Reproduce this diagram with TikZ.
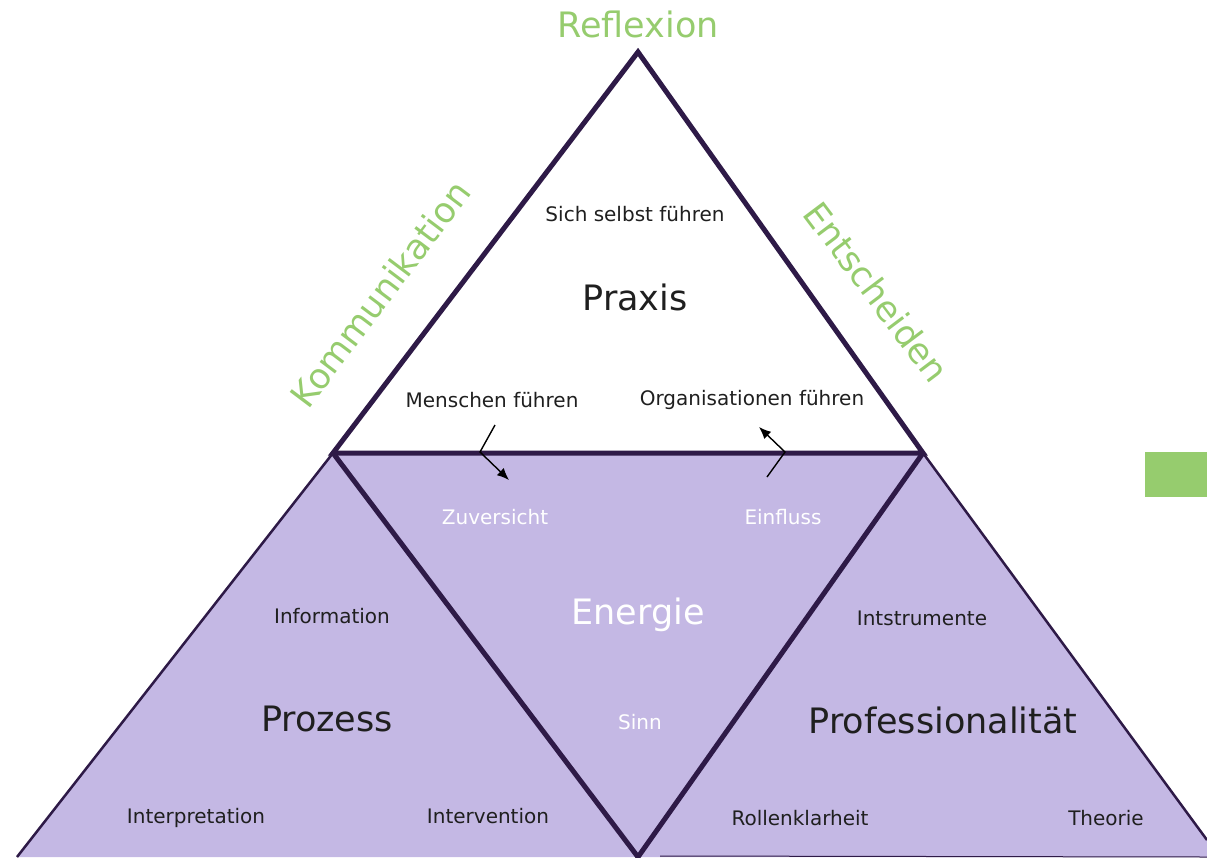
\documentclass[tikz,border=0pt]{standalone}
\usepackage{fontspec}
\setmainfont{DejaVu Sans}
\usetikzlibrary{arrows.meta}
\definecolor{lila}{HTML}{C4B8E4}
\definecolor{dunkel}{HTML}{2E1A47}
\definecolor{gruen}{HTML}{96CC6E}
\tikzset{
  thick edge/.style={draw=dunkel,line width=5pt,line join=miter},
  thin edge/.style={draw=dunkel,line width=2.5pt},
  greenlbl/.style={text=gruen,font=\fontsize{35}{35}\selectfont,inner sep=0pt},
  big/.style={text=black!88,font=\fontsize{35}{35}\selectfont,inner sep=0pt},
  small/.style={text=black!88,font=\fontsize{20}{20}\selectfont,inner sep=0pt},
  whitebig/.style={text=white,font=\fontsize{35}{35}\selectfont,inner sep=0pt},
  whitesmall/.style={text=white,font=\fontsize{20}{20}\selectfont,inner sep=0pt},
  pointer/.style={draw=black,line width=1.4pt,-{Latex[length=12pt,width=10pt]}}
}
\begin{document}
\begin{tikzpicture}[x=1pt,y=-1pt]
\useasboundingbox (0,0) rectangle (1207,857);
\coordinate (A) at (638,52);
\coordinate (L) at (333,453);
\coordinate (R) at (923,453);
\coordinate (B) at (638,857);
\coordinate (BL) at (17,857);
\coordinate (BR) at (1207,840);
\coordinate (BRb) at (1207,857);
% fill
\fill[lila] (L) -- (R) -- (BR) -- (BRb) -- (BL) -- cycle;
% outer thin edges
\draw[thin edge] (L) -- (BL);
\draw[thin edge] (R) -- (BR);
\draw[dunkel,line width=1pt] (660,856) -- (BRb);
% thick triangles
\draw[thick edge] (A) -- (L) -- (R) -- cycle;
\draw[thick edge] (L) -- (B) -- (R);
% green rectangle
\fill[gruen] (1145,452) rectangle (1207,497);
% green labels
\node[greenlbl] (refl) at (638,24) {Reflexion};
\node[greenlbl,rotate=53] (komm) at (380,294) {Kommunikation};
\node[greenlbl,rotate=-53] (ents) at (877,292) {Entscheiden};
% top
\node[small] (ssf) at (635,214) {Sich selbst führen};
\node[big] (praxis) at (635,297) {Praxis};
\node[small] (mf) at (492,400) {Menschen führen};
\node[small] (of) at (752,400) {Organisationen führen};
% middle
\node[whitesmall] (zuv) at (495,517) {Zuversicht};
\node[whitesmall] (einf) at (783,517) {Einfluss};
\node[whitebig] (energie) at (638,615) {Energie};
\node[whitesmall] (sinn) at (640,722) {Sinn};
% left
\node[small] (info) at (332,616) {Information};
\node[big] (prozess) at (327,719) {Prozess};
\node[small] (interp) at (196,818) {Interpretation};
\node[small] (interv) at (488,816) {Intervention};
% right
\node[small] (instr) at (922,618) {Intstrumente};
\node[big] (prof) at (943,720) {Professionalität};
\node[small] (rolle) at (800,818) {Rollenklarheit};
\node[small] (theo) at (1106,818) {Theorie};
% arrows
\coordinate (m1) at (495,425);
\coordinate (m2) at (480,452);
\coordinate (m3) at (509,480);
\draw[pointer] (m1) -- (m2) -- (m3);
\coordinate (o1) at (767,477);
\coordinate (o2) at (785,452);
\coordinate (o3) at (759,427);
\draw[pointer] (o1) -- (o2) -- (o3);
\end{tikzpicture}
\end{document}
